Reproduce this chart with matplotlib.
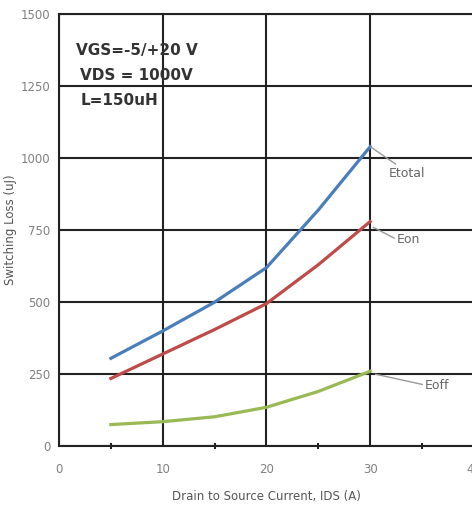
import matplotlib.pyplot as plt
from matplotlib.ticker import MultipleLocator

# values
ids = [5, 10, 15, 20, 25, 30]
etotal = [305, 400, 500, 620, 820, 1040]
eon = [235, 320, 405, 495, 630, 780]
eoff = [75, 85, 102, 135, 190, 260]

fig = plt.figure(figsize=(4.72, 5.07), dpi=100)
ax = fig.add_axes([0.125, 0.12, 0.879, 0.852])

ax.plot(ids, etotal, color="#4a7ebb", lw=2.3, zorder=3)
ax.plot(ids, eon, color="#be4b48", lw=2.3, zorder=3)
ax.plot(ids, eoff, color="#98b954", lw=2.3, zorder=3)

ax.set_xlim(0, 40)
ax.set_ylim(0, 1500)
ax.xaxis.set_major_locator(MultipleLocator(10))
ax.xaxis.set_minor_locator(MultipleLocator(5))
ax.yaxis.set_major_locator(MultipleLocator(250))
ax.grid(True, which="major", color="#222222", lw=1.5)
ax.set_axisbelow(True)

for side in ["left", "bottom", "top"]:
    ax.spines[side].set_color("#222222")
    ax.spines[side].set_linewidth(1.5)
ax.spines["right"].set_visible(False)

ax.tick_params(axis="both", which="major", length=0, labelsize=8.5,
               labelcolor="#808080")
ax.tick_params(axis="x", which="major", pad=12)
ax.tick_params(axis="y", which="major", pad=6)
ax.tick_params(axis="x", which="minor", length=5, width=1.5,
               direction="inout", color="#222222")

ax.set_xlabel("Drain to Source Current, IDS (A)", fontsize=8.5,
              color="#555555", labelpad=10)
ax.set_ylabel("Switching Loss (uJ)", fontsize=8.5, color="#555555",
              labelpad=3)

ax.text(1.6, 1357, "VGS=-5/+20 V", fontsize=11, fontweight="bold",
        color="#333333")
ax.text(2.0, 1271, "VDS = 1000V", fontsize=11, fontweight="bold",
        color="#333333")
ax.text(2.1, 1184, "L=150uH", fontsize=11, fontweight="bold",
        color="#333333")

# curve labels with leader lines
ax.annotate("Etotal", xy=(30, 1040), xytext=(31.8, 935), fontsize=9,
            color="#666666",
            arrowprops=dict(arrowstyle="-", color="#999999", lw=1,
                            shrinkA=0, shrinkB=0,
                            relpos=(0.3, 1.0)))
ax.annotate("Eon", xy=(30.3, 760), xytext=(32.6, 705), fontsize=9,
            color="#666666",
            arrowprops=dict(arrowstyle="-", color="#999999", lw=1,
                            shrinkA=0, shrinkB=0, relpos=(0.0, 0.5)))
ax.annotate("Eoff", xy=(30.5, 250), xytext=(35.3, 200), fontsize=9,
            color="#666666",
            arrowprops=dict(arrowstyle="-", color="#999999", lw=1,
                            shrinkA=0, shrinkB=0, relpos=(0.0, 0.5)))

fig.savefig("out.png", dpi=100)
